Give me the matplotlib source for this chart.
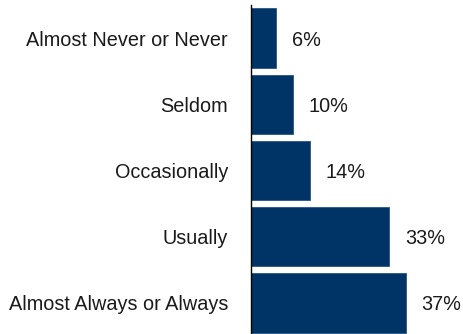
import matplotlib
matplotlib.use('Agg')
import matplotlib.pyplot as plt

# Данные
categories = ['Almost Never or Never', 'Seldom', 'Occasionally', 'Usually', 'Almost Always or Always']
values = [6, 10, 14, 33, 37]
labels = ['6%', '10%', '14%', '33%', '37%']

plt.rcParams['font.family'] = ['Liberation Sans', 'DejaVu Sans']

fig = plt.figure(figsize=(4.64, 3.34), dpi=100)
ax = fig.add_axes([251 / 464, 0, 209 / 464, 329 / 334])

ypos = list(range(len(categories)))
ax.barh(ypos, values, height=0.9, color='#003366', edgecolor='#2a5585', linewidth=0.6)

for y, v, lab in zip(ypos, values, labels):
    ax.annotate(lab, (v, y), xytext=(11.5, 0), textcoords='offset points',
                va='center_baseline', ha='left', fontsize=14.3, color='#1a1a1a')

ax.set_xlim(0, 50)
ax.set_ylim(4.47, -0.5)
ax.set_yticks(ypos)
ax.set_yticklabels(categories, fontsize=14.3, color='#1a1a1a')
ax.tick_params(axis='y', length=0, pad=16.5)
ax.set_xticks([])
for s in ['top', 'right', 'bottom']:
    ax.spines[s].set_visible(False)
ax.spines['left'].set_linewidth(1.0)
ax.spines['left'].set_color('black')

fig.savefig('out.png', dpi=100)
